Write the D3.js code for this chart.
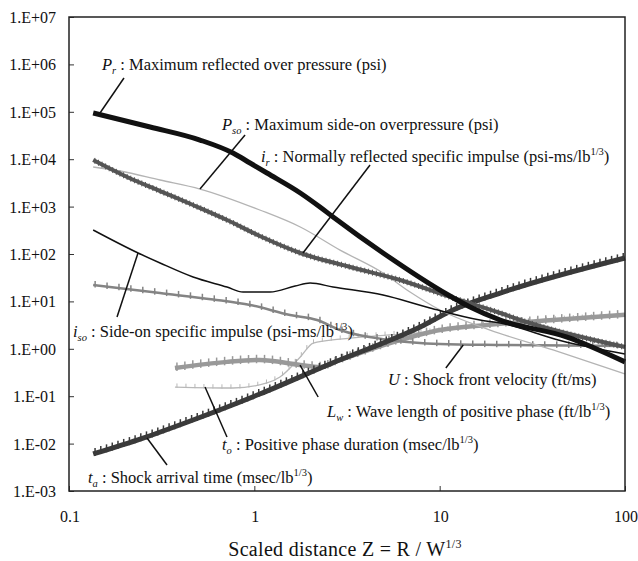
<!DOCTYPE html>
<html>
<head>
<meta charset="utf-8">
<script src="https://cdn.jsdelivr.net/npm/d3@7"></script>
<style>
body { margin: 0; background: #fff; }
</style>
</head>
<body>
<div id="chart"></div>
<script>
// scaled distance Z (ft/lb^1/3) and values for each curve
var prZ  = [0.135, 0.274, 0.509, 0.767, 0.948, 1.17, 1.77, 2.26, 2.66, 4.95, 11.0, 14.6, 21.2, 48.7, 100];
var prV  = [94400, 47800, 25400, 13500, 8320, 5120, 1940, 981, 604, 105, 14.0, 7.62, 4.05, 1.77, 0.53];

var psoZ = [0.135, 0.189, 0.310, 0.509, 1.07, 1.77, 2.90, 4.95, 6.92, 10.05, 18.7, 40.9, 100];
var psoV = [6850, 5640, 3640, 2350, 848, 371, 121, 39.7, 15.8, 6.59, 2.49, 0.944, 0.294];

var irZ  = [0.135, 0.206, 0.310, 0.467, 0.712, 1.07, 1.77, 3.29, 6.11, 11.4, 21.2, 27.2, 100];
var irV  = [9620, 4210, 2130, 1080, 521, 240, 105, 53.2, 28.3, 12.4, 5.69, 4.05, 1.09];

var isoZ = [0.135, 0.236, 0.310, 0.467, 0.712, 0.869, 1.215, 1.66, 2.0, 2.66, 4.95, 8.87, 16.5, 21.2, 44.7, 100];
var isoV = [321, 105, 64.6, 32.7, 20.1, 15.8, 15.8, 21.1, 24.4, 20.1, 13.6, 7.26, 4.05, 3.50, 1.5, 0.776];

var uZ   = [0.135, 0.31, 0.60, 0.95, 1.56, 2.18, 2.90, 5.40, 10.05, 21.2, 100];
var uV   = [22.2, 15.0, 11.0, 8.4, 5.17, 4.05, 2.49, 1.53, 1.26, 1.20, 1.15];

var lwZ  = [0.373, 0.712, 1.07, 1.77, 2.26, 2.90, 5.40, 10.05, 18.0, 40.9, 100];
var lwV  = [0.394, 0.53, 0.581, 0.455, 0.413, 0.581, 1.325, 2.49, 3.18, 4.05, 5.2];

var toZ  = [0.373, 0.767, 1.17, 1.375, 1.77, 2.08, 2.9, 4.77, 8.87, 18.7, 40.9, 100];
var toV  = [0.156, 0.149, 0.190, 0.254, 0.671, 1.325, 1.6, 1.9, 2.26, 3.18, 4.05, 4.92];

var taZ  = [0.135, 0.251, 0.467, 1.07, 2.56, 7.84, 11.8, 21.2, 100];
var taV  = [0.00604, 0.0131, 0.0315, 0.111, 0.478, 2.88, 6.59, 15.0, 82.4];

var yTicks = [1e-3, 1e-2, 1e-1, 1, 1e1, 1e2, 1e3, 1e4, 1e5, 1e6, 1e7];
var yTickLabels = ["1.E-03", "1.E-02", "1.E-01", "1.E+00", "1.E+01", "1.E+02", "1.E+03", "1.E+04", "1.E+05", "1.E+06", "1.E+07"];
var xTicks = [0.1, 1, 10, 100];
var xTickLabels = ["0.1", "1", "10", "100"];

var width = 638, height = 561,
    margin = {left: 69, right: 13, top: 17, bottom: 70};

var svg = d3.select("#chart").append("svg")
    .attr("width", width)
    .attr("height", height)
    .style("font-family", "'Liberation Serif', 'Times New Roman', serif");

var x = d3.scaleLog().domain([0.1, 100]).range([margin.left, width - margin.right]);
var y = d3.scaleLog().domain([1e-3, 1e7]).range([height - margin.bottom, margin.top]);

// axes: inward ticks, labels drawn separately
svg.append("g")
    .attr("transform", "translate(" + margin.left + ",0)")
    .call(d3.axisRight(y).tickValues(yTicks).tickSize(5).tickFormat(""))
    .call(function(g) { g.select(".domain").remove(); })
    .selectAll("line").attr("stroke", "#333");

svg.append("g")
    .attr("transform", "translate(0," + (height - margin.bottom) + ")")
    .call(d3.axisTop(x).tickValues(xTicks).tickSize(5).tickFormat(""))
    .call(function(g) { g.select(".domain").remove(); })
    .selectAll("line").attr("stroke", "#333");

svg.selectAll(".ylab").data(yTicks).enter()
    .append("text")
    .attr("class", "ylab")
    .attr("x", 56)
    .attr("y", function(d) { return y(d) + 6; })
    .attr("text-anchor", "end")
    .attr("font-size", 16)
    .attr("fill", "#111")
    .text(function(d, i) { return yTickLabels[i]; });

svg.selectAll(".xlab").data(xTicks).enter()
    .append("text")
    .attr("class", "xlab")
    .attr("x", function(d) { return x(d) + 1; })
    .attr("y", 522)
    .attr("text-anchor", "middle")
    .attr("font-size", 16)
    .attr("fill", "#111")
    .text(function(d, i) { return xTickLabels[i]; });

var title = svg.append("text")
    .attr("x", 345)
    .attr("y", 556)
    .attr("text-anchor", "middle")
    .attr("font-size", 20)
    .attr("fill", "#111")
    .attr("letter-spacing", 0.3);
title.append("tspan").text("Scaled distance Z = R / W");
title.append("tspan").attr("font-size", 12).attr("dy", -8).text("1/3");

// curves
var series = [
    {z: toZ,  v: toV,  color: "#b8b8b8", w: 1.3, tick: {step: 9,  up: 3, down: 0, w: 1}},
    {z: lwZ,  v: lwV,  color: "#999",    w: 4.5, tick: {step: 8,  up: 3, down: 1, w: 1.5}},
    {z: uZ,   v: uV,   color: "#848484", w: 2.5, tick: {step: 12, up: 3, down: 1, w: 1.5}},
    {z: taZ,  v: taV,  color: "#3a3a3a", w: 5,   tick: {step: 6,  up: 3, down: 0, w: 1.5}},
    {z: psoZ, v: psoV, color: "#b4b4b4", w: 1.3},
    {z: isoZ, v: isoV, color: "#111",    w: 1.5},
    {z: irZ,  v: irV,  color: "#555",    w: 4,   tick: {step: 4, up: 1, down: 1, w: 1}},
    {z: prZ,  v: prV,  color: "#111",    w: 5}
];

var line = d3.line()
    .x(function(d) { return x(d[0]); })
    .y(function(d) { return y(d[1]); })
    .curve(d3.curveMonotoneX);

series.forEach(function(s) {
    var pts = d3.zip(s.z, s.v);
    var path = svg.append("path")
        .datum(pts)
        .attr("d", line)
        .attr("fill", "none")
        .attr("stroke", s.color)
        .attr("stroke-width", s.w)
        .attr("stroke-linejoin", "round");
    if (s.tick) {
        var node = path.node(), len = node.getTotalLength(), marks = [];
        for (var l = 2; l < len; l += s.tick.step) marks.push(node.getPointAtLength(l));
        svg.append("g").selectAll("line").data(marks).enter()
            .append("line")
            .attr("x1", function(p) { return p.x; })
            .attr("x2", function(p) { return p.x; })
            .attr("y1", function(p) { return p.y - s.tick.up - s.w / 2; })
            .attr("y2", function(p) { return p.y + s.tick.down + s.w / 2; })
            .attr("stroke", s.color)
            .attr("stroke-width", s.tick.w);
    }
});

// plot frame
svg.append("rect")
    .attr("x", margin.left)
    .attr("y", margin.top)
    .attr("width", width - margin.left - margin.right)
    .attr("height", height - margin.top - margin.bottom)
    .attr("fill", "none")
    .attr("stroke", "#222")
    .attr("stroke-width", 1.5);

// leader lines, ends given in data space
var leaders = [
    [[0.198, 516000], [0.147, 94400]],
    [[0.891, 32400], [0.509, 2350]],
    [[4.21, 7550], [1.83, 105]],
    [[0.1816, 4.69], [0.2357, 105]],
    [[10.8, 0.394], [13.4, 1.20]],
    [[2.21, 0.0962], [1.765, 0.455]],
    [[0.712, 0.01377], [0.542, 0.156]],
    [[0.338, 0.00354], [0.2636, 0.01312]]
];
svg.selectAll(".leader").data(leaders).enter()
    .append("line")
    .attr("class", "leader")
    .attr("x1", function(d) { return x(d[0][0]); })
    .attr("y1", function(d) { return y(d[0][1]); })
    .attr("x2", function(d) { return x(d[1][0]); })
    .attr("y2", function(d) { return y(d[1][1]); })
    .attr("stroke", "#111")
    .attr("stroke-width", 1.5);

function addLabel(px, py, parts) {
    var t = svg.append("text").attr("x", px).attr("y", py).attr("font-size", 16.5).attr("fill", "#111");
    var base = 0;
    parts.forEach(function(p) {
        var shift = p.sub ? 4 : (p.sup ? -7 : 0);
        var span = t.append("tspan").text(p.t).attr("dy", shift - base);
        base = shift;
        if (p.it) span.attr("font-style", "italic");
        if (p.sub || p.sup) span.attr("font-size", 10.5);
    });
}

addLabel(102, 70, [{t: "P", it: 1}, {t: "r", it: 1, sub: 1}, {t: " : Maximum reflected over pressure (psi)"}]);
addLabel(222, 130, [{t: "P", it: 1}, {t: "so", it: 1, sub: 1}, {t: " : Maximum side-on overpressure (psi)"}]);
addLabel(261, 162, [{t: "i", it: 1}, {t: "r", it: 1, sub: 1}, {t: " : Normally reflected specific impulse (psi-ms/lb"}, {t: "1/3", sup: 1}, {t: ")"}]);
addLabel(73, 337, [{t: "i", it: 1}, {t: "so", it: 1, sub: 1}, {t: " : Side-on specific impulse (psi-ms/lb"}, {t: "1/3", sup: 1}, {t: ")"}]);
addLabel(388, 385, [{t: "U", it: 1}, {t: " : Shock front velocity (ft/ms)"}]);
addLabel(327, 417, [{t: "L", it: 1}, {t: "w", it: 1, sub: 1}, {t: " : Wave length of positive phase (ft/lb"}, {t: "1/3", sup: 1}, {t: ")"}]);
addLabel(222, 450, [{t: "t", it: 1}, {t: "o", it: 1, sub: 1}, {t: " : Positive phase duration (msec/lb"}, {t: "1/3", sup: 1}, {t: ")"}]);
addLabel(88, 483, [{t: "t", it: 1}, {t: "a", it: 1, sub: 1}, {t: " : Shock arrival time (msec/lb"}, {t: "1/3", sup: 1}, {t: ")"}]);
</script>
</body>
</html>
